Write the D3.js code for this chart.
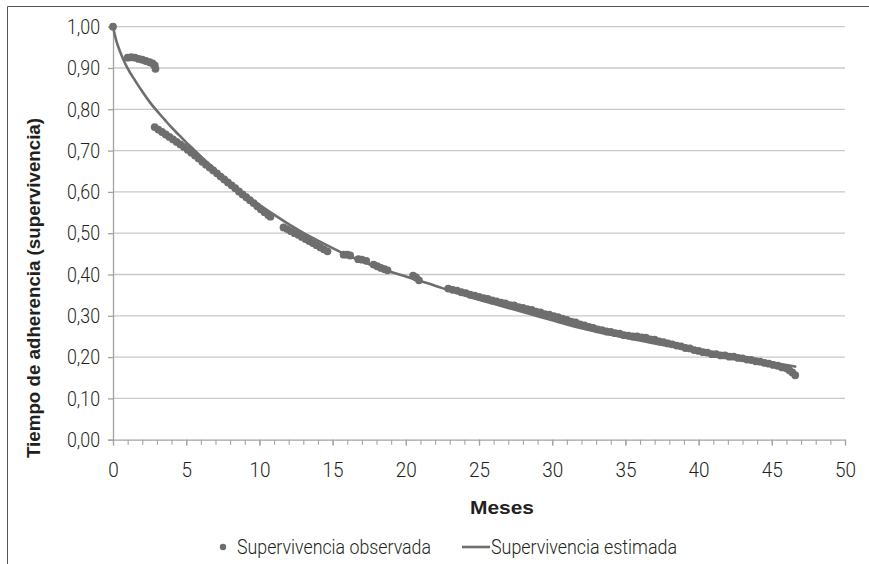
<!DOCTYPE html>
<html>
<head>
<meta charset="utf-8">
<script src="https://cdn.jsdelivr.net/npm/d3@7"></script>
<style>
  html, body { margin: 0; padding: 0; background: #fff; }
  svg { display: block; }
  .tick text { font-family: Roboto, "Liberation Sans", sans-serif; font-weight: 300; fill: #231f20; }
</style>
</head>
<body>
<svg id="chart" width="869" height="564"></svg>
<script>
// Observed survival (Kaplan-Meier style) by month
const obsMonths = [
  0,
  1.0, 1.25, 1.5, 1.75, 2.0, 2.25, 2.5, 2.7, 2.85, 2.9,
  2.85, 3.1, 3.35, 3.6, 3.85, 4.1, 4.35, 4.6, 4.85, 5.1, 5.35, 5.6, 5.85, 6.1, 6.35, 6.6, 6.85,
  7.1, 7.35, 7.6, 7.85, 8.1, 8.35, 8.6, 8.85, 9.1, 9.35, 9.6, 9.85, 10.1, 10.35, 10.6, 10.75,
  11.65, 11.9, 12.15, 12.4, 12.65, 12.9, 13.15, 13.4, 13.65, 13.9, 14.15, 14.4, 14.65,
  15.75, 16.0, 16.2,
  16.75, 17.0, 17.3,
  17.8, 18.05, 18.3, 18.55, 18.75,
  20.5, 20.7, 20.9,
  22.9, 23.2, 23.5, 23.8, 24.1, 24.4, 24.7, 25.0, 25.3, 25.6, 25.9, 26.2, 26.5, 26.8, 27.1, 27.4,
  27.7, 28.0, 28.3, 28.6, 28.9, 29.2, 29.5, 29.8, 30.1, 30.4, 30.7, 31.0, 31.3, 31.6, 31.9, 32.2,
  32.5, 32.8, 33.1, 33.4, 33.7, 34.0, 34.3, 34.6, 34.9, 35.2, 35.5, 35.8, 36.1, 36.4, 36.7, 37.0,
  37.3, 37.6, 37.9, 38.2, 38.5, 38.8, 39.1, 39.4, 39.7, 40.0, 40.3, 40.6, 40.9, 41.2, 41.5, 41.8,
  42.1, 42.4, 42.7, 43.0, 43.3, 43.6, 43.9, 44.2, 44.5, 44.8, 45.1, 45.4, 45.7, 46.0, 46.2, 46.4, 46.6
];
const obsValues = [
  1.000,
  0.925, 0.926, 0.925, 0.922, 0.920, 0.917, 0.914, 0.911, 0.906, 0.898,
  0.757, 0.751, 0.745, 0.739, 0.733, 0.727, 0.721, 0.715, 0.709, 0.702, 0.695, 0.688, 0.681, 0.673, 0.666, 0.659, 0.652,
  0.645, 0.637, 0.630, 0.623, 0.616, 0.609, 0.601, 0.594, 0.587, 0.580, 0.573, 0.565, 0.558, 0.551, 0.544, 0.540,
  0.514, 0.510, 0.505, 0.500, 0.496, 0.491, 0.486, 0.481, 0.476, 0.471, 0.466, 0.461, 0.456,
  0.448, 0.448, 0.446,
  0.437, 0.436, 0.433,
  0.424, 0.420, 0.416, 0.413, 0.410,
  0.397, 0.393, 0.386,
  0.366, 0.363, 0.361, 0.357, 0.355, 0.351, 0.349, 0.346, 0.343, 0.341, 0.337, 0.335, 0.332, 0.330, 0.326, 0.325,
  0.321, 0.319, 0.316, 0.314, 0.310, 0.308, 0.304, 0.303, 0.299, 0.297, 0.293, 0.290, 0.286, 0.284, 0.279, 0.277,
  0.273, 0.271, 0.267, 0.265, 0.262, 0.261, 0.258, 0.257, 0.253, 0.252, 0.250, 0.250, 0.248, 0.247, 0.243, 0.242,
  0.238, 0.236, 0.233, 0.231, 0.228, 0.226, 0.222, 0.221, 0.217, 0.215, 0.212, 0.211, 0.207, 0.207, 0.204, 0.204,
  0.201, 0.201, 0.198, 0.197, 0.194, 0.193, 0.190, 0.189, 0.186, 0.184, 0.181, 0.179, 0.175, 0.173, 0.168, 0.163, 0.156
];

// Estimated (fitted) survival curve
const estMonths = [0, 0.25, 0.5, 0.75, 1, 1.5, 2, 2.5, 3, 3.5, 4, 4.5, 5, 5.5, 6, 7, 8, 9, 10, 11, 12, 13, 14, 15,
  16, 17, 18, 19, 20, 21, 22, 23, 24, 25, 26, 27, 28, 29, 30, 31, 32, 33, 34, 35, 36, 37, 38, 39, 40,
  41, 42, 43, 44, 45, 46, 46.6];
const estValues = [1.000, 0.963, 0.938, 0.917, 0.899, 0.870, 0.843, 0.818, 0.796, 0.776, 0.756, 0.738, 0.720, 0.703,
  0.686, 0.654, 0.623, 0.595, 0.569, 0.545, 0.522, 0.501, 0.482, 0.464,
  0.447, 0.432, 0.418, 0.406, 0.395, 0.384, 0.373, 0.361, 0.350, 0.339, 0.329, 0.319, 0.309, 0.299, 0.289,
  0.279, 0.270, 0.262, 0.254, 0.247, 0.240, 0.233, 0.227, 0.221, 0.215, 0.209, 0.203, 0.197, 0.192, 0.187, 0.181, 0.177];

const xTicks = [0, 5, 10, 15, 20, 25, 30, 35, 40, 45, 50];
const xMinorTicks = d3.range(0, 51, 1);
const yTicks = [0, 0.1, 0.2, 0.3, 0.4, 0.5, 0.6, 0.7, 0.8, 0.9, 1.0];

const seriesNames = ["Supervivencia observada", "Supervivencia estimada"];
const xTitle = "Meses";
const yTitle = "Tiempo de adherencia (supervivencia)";

const markColor = "#6e6e6e";
const gridColor = "#c9c9c9";
const axisColor = "#a3a3a3";
const textColor = "#231f20";

const svg = d3.select("#chart");
const plot = { left: 113, right: 845, top: 26.7, bottom: 439.7 };

// Frame around the chart
svg.append("path")
  .attr("d", "M7.5,564 V6.5 H869")
  .attr("fill", "none").attr("stroke", "#555").attr("stroke-width", 1);

const x = d3.scaleLinear().domain([0, 50]).range([plot.left, plot.right]);
const y = d3.scaleLinear().domain([0, 1]).range([plot.bottom, plot.top]);

// Horizontal gridlines
svg.append("g").selectAll("line")
  .data(yTicks.filter(d => d > 0))
  .join("line")
  .attr("x1", plot.left).attr("x2", plot.right)
  .attr("y1", d => y(d)).attr("y2", d => y(d))
  .attr("stroke", gridColor).attr("stroke-width", 1.3);

// Y axis
const fmtY = d => d3.format(".2f")(d).replace(".", ",");
const yAxis = svg.append("g")
  .attr("transform", `translate(${plot.left},0)`)
  .call(d3.axisLeft(y).tickValues(yTicks).tickFormat(fmtY).tickSize(5).tickPadding(8));
yAxis.select(".domain").attr("stroke", axisColor).attr("stroke-width", 1.3);
yAxis.selectAll(".tick line").attr("stroke", axisColor).attr("stroke-width", 1.3);
yAxis.selectAll(".tick text")
  .attr("font-size", 21)
  .attr("textLength", 33).attr("lengthAdjust", "spacingAndGlyphs");

// X axis: minor ticks every month, labels every five
const xMinor = svg.append("g")
  .attr("transform", `translate(0,${plot.bottom})`)
  .call(d3.axisBottom(x).tickValues(xMinorTicks).tickFormat("").tickSize(5).tickSizeOuter(0));
xMinor.select(".domain").attr("stroke", axisColor).attr("stroke-width", 1.3);
xMinor.selectAll(".tick line").attr("stroke", axisColor).attr("stroke-width", 1.1);

const xAxis = svg.append("g")
  .attr("transform", `translate(0,${plot.bottom})`)
  .call(d3.axisBottom(x).tickValues(xTicks).tickFormat(d3.format("d")).tickSize(6).tickPadding(16));
xAxis.select(".domain").remove();
xAxis.selectAll(".tick line").attr("stroke", axisColor).attr("stroke-width", 1.3);
xAxis.selectAll(".tick text")
  .attr("font-size", 21)
  .attr("textLength", d => String(d).length * 10.5).attr("lengthAdjust", "spacingAndGlyphs");

// Observed points
const observed = obsMonths.map((m, i) => ({ m, v: obsValues[i] }));
svg.append("g").selectAll("circle")
  .data(observed)
  .join("circle")
  .attr("cx", d => x(d.m)).attr("cy", d => y(d.v))
  .attr("r", 3.9)
  .attr("fill", markColor);

// Estimated curve
const estimated = estMonths.map((m, i) => ({ m, v: estValues[i] }));
svg.append("path")
  .datum(estimated)
  .attr("d", d3.line().x(d => x(d.m)).y(d => y(d.v)).curve(d3.curveMonotoneX))
  .attr("fill", "none").attr("stroke", markColor).attr("stroke-width", 2.6)
  .attr("stroke-linejoin", "round").attr("stroke-linecap", "round");

// Axis titles
svg.append("text")
  .attr("x", 502).attr("y", 514)
  .attr("text-anchor", "middle")
  .attr("font-family", "'Liberation Sans', Arial, sans-serif")
  .attr("font-weight", "bold").attr("font-size", 19)
  .attr("textLength", 64).attr("lengthAdjust", "spacingAndGlyphs")
  .attr("fill", textColor)
  .text(xTitle);

svg.append("text")
  .attr("transform", "translate(40,288) rotate(-90)")
  .attr("text-anchor", "middle")
  .attr("font-family", "'Liberation Sans', Arial, sans-serif")
  .attr("font-weight", "bold").attr("font-size", 18)
  .attr("textLength", 340).attr("lengthAdjust", "spacingAndGlyphs")
  .attr("fill", textColor)
  .text(yTitle);

// Legend
const legend = svg.append("g");
legend.append("circle").attr("cx", 223).attr("cy", 547).attr("r", 3.2).attr("fill", markColor);
legend.append("text")
  .attr("x", 237).attr("y", 554)
  .attr("font-family", "Roboto, sans-serif").attr("font-weight", 300).attr("font-size", 20)
  .attr("textLength", 194).attr("lengthAdjust", "spacingAndGlyphs")
  .attr("fill", textColor)
  .text(seriesNames[0]);
legend.append("line")
  .attr("x1", 462).attr("x2", 490).attr("y1", 547).attr("y2", 547)
  .attr("stroke", markColor).attr("stroke-width", 2.6);
legend.append("text")
  .attr("x", 491).attr("y", 554)
  .attr("font-family", "Roboto, sans-serif").attr("font-weight", 300).attr("font-size", 20)
  .attr("textLength", 186).attr("lengthAdjust", "spacingAndGlyphs")
  .attr("fill", textColor)
  .text(seriesNames[1]);
</script>
</body>
</html>
